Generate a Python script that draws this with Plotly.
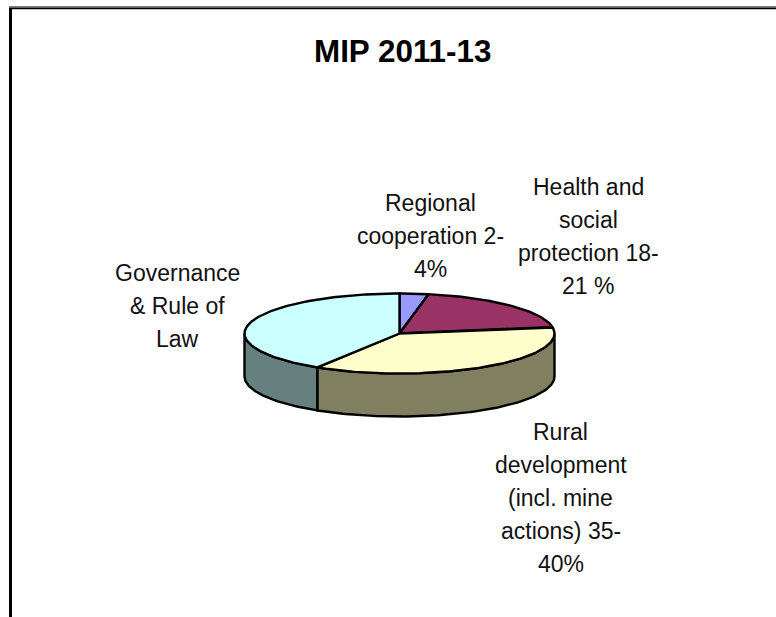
import numpy as np
import plotly.graph_objects as go

# Programme shares (%), clockwise from twelve o'clock
categories = ["Regional cooperation", "Health and social protection",
              "Rural development", "Governance & Rule of Law"]
shares = [3.0, 19.4, 36.5, 41.1]
top_colors = ["#9999FF", "#993366", "#FFFFCC", "#CCFFFF"]
side_colors = ["#666699", "#662244", "#808060", "#668080"]

title_text = "MIP 2011-13"
label_lines = [
    ["Regional", "cooperation 2-", "4%"],
    ["Health and", "social", "protection 18-", "21 %"],
    ["Rural", "development", "(incl. mine", "actions) 35-", "40%"],
    ["Governance", "& Rule of", "Law"],
]
label_anchor = [(430, 203), (588, 187), (560.5, 432), (177.5, 273)]
LINE_GAP = 33.1

CX, CY, RX, RY, DEPTH = 399.5, 333.5, 155, 40, 43


def rim(a0, a1):
    """Points on the top ellipse between two clockwise angles (radians from 12 o'clock)."""
    t = np.linspace(a0, a1, max(int((a1 - a0) * 60), 2))
    return CX + RX * np.sin(t), CY - RY * np.cos(t)


fig = go.Figure()
edges = np.cumsum([0] + shares) / sum(shares) * 2 * np.pi

# Visible wall of the disc: only the front half of the rim (90 to 270 degrees)
for i in range(len(shares)):
    a0, a1 = max(edges[i], np.pi / 2), min(edges[i + 1], 3 * np.pi / 2)
    if a1 <= a0:
        continue
    x, y = rim(a0, a1)
    fig.add_trace(go.Scatter(
        x=np.r_[x, x[::-1], x[0]], y=np.r_[y, y[::-1] + DEPTH, y[0]],
        mode="lines", fill="toself", fillcolor=side_colors[i],
        line=dict(color="black", width=2.4), hoverinfo="skip"))

# Top face of each slice
for i, name in enumerate(categories):
    x, y = rim(edges[i], edges[i + 1])
    fig.add_trace(go.Scatter(
        x=np.r_[CX, x, CX], y=np.r_[CY, y, CY],
        mode="lines", fill="toself", fillcolor=top_colors[i],
        line=dict(color="black", width=2.4), name=name, hoverinfo="name"))

annotations = [dict(x=402, y=51, text=f"<b>{title_text}</b>", showarrow=False,
                    font=dict(size=31.4, color="black", family="Liberation Sans"))]
for lines, (ax, ay) in zip(label_lines, label_anchor):
    for k, line in enumerate(lines):
        annotations.append(dict(x=ax, y=ay + k * LINE_GAP, text=line, showarrow=False,
                                font=dict(size=23, color="#111111", family="Liberation Sans")))

fig.update_layout(
    width=776, height=617, margin=dict(l=0, r=0, t=0, b=0),
    paper_bgcolor="white", plot_bgcolor="white", showlegend=False,
    xaxis=dict(range=[0, 776], visible=False, fixedrange=True),
    yaxis=dict(range=[617, 0], visible=False, fixedrange=True),
    annotations=annotations,
    shapes=[
        # Chart frame: soft grey upper edge over a black rule, open on the right and bottom
        dict(type="line", xref="x", yref="y", x0=9, x1=776, y0=7, y1=7,
             line=dict(color="#808080", width=2)),
        dict(type="line", xref="x", yref="y", x0=9, x1=776, y0=8.5, y1=8.5,
             line=dict(color="black", width=1.5)),
        dict(type="line", xref="x", yref="y", x0=10.5, x1=10.5, y0=8, y1=617,
             line=dict(color="black", width=3)),
    ],
)
fig.write_html("out.html", config=dict(displayModeBar=False))
